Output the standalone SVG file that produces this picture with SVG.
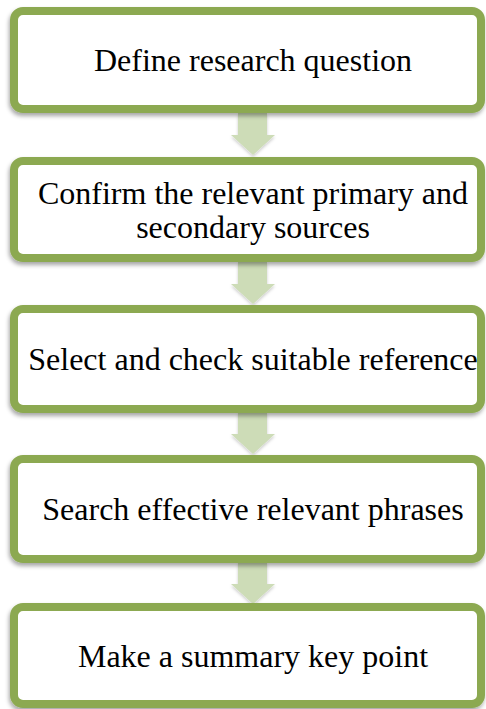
<svg xmlns="http://www.w3.org/2000/svg" width="486" height="709" viewBox="0 0 486 709">
  <defs>
    <filter id="boxShadow" x="-5%" y="-10%" width="110%" height="125%">
      <feDropShadow dx="-1" dy="3" stdDeviation="2" flood-color="#000000" flood-opacity="0.35"/>
    </filter>
    <filter id="arrowShadow" x="-30%" y="-30%" width="160%" height="160%">
      <feDropShadow dx="0" dy="2" stdDeviation="1.5" flood-color="#000000" flood-opacity="0.2"/>
    </filter>
    <path id="downArrow" d="M-15,0 H14 V22 H22 L0,42 L-22,22 H-15 Z"/>
  </defs>
  <style>
    .box { fill: #ffffff; stroke: #8CA951; stroke-width: 8; filter: url(#boxShadow); }
    .label { font-family: "Liberation Serif", "Times New Roman", serif; font-size: 32px; fill: #000000; text-anchor: middle; }
    .arrow { fill: #CDDCB7; filter: url(#arrowShadow); }
  </style>

  <!-- connectors between steps -->
  <g id="connectors">
    <use href="#downArrow" class="arrow" x="253" y="113"/>
    <use href="#downArrow" class="arrow" x="253" y="262"/>
    <use href="#downArrow" class="arrow" x="253" y="412"/>
    <use href="#downArrow" class="arrow" x="253" y="562"/>
  </g>

  <g id="step1">
    <rect class="box" x="14" y="11" width="467" height="98" rx="9"/>
    <text class="label" x="253" y="71" font-family="Liberation Serif, serif">Define research question</text>
  </g>

  <g id="step2">
    <rect class="box" x="14" y="161" width="467" height="97" rx="9"/>
    <text class="label" x="253" y="204" font-family="Liberation Serif, serif">Confirm the relevant primary and</text>
    <text class="label" x="253" y="238" font-family="Liberation Serif, serif">secondary sources</text>
  </g>

  <g id="step3">
    <rect class="box" x="14" y="309" width="467" height="100" rx="9"/>
    <text class="label" x="253" y="370" font-family="Liberation Serif, serif">Select and check suitable reference</text>
  </g>

  <g id="step4">
    <rect class="box" x="14" y="459" width="467" height="100" rx="9"/>
    <text class="label" x="253" y="520" font-family="Liberation Serif, serif">Search effective relevant phrases</text>
  </g>

  <g id="step5">
    <rect class="box" x="14" y="607" width="467" height="97" rx="9"/>
    <text class="label" x="253" y="667" font-family="Liberation Serif, serif">Make a summary key point</text>
  </g>
</svg>
